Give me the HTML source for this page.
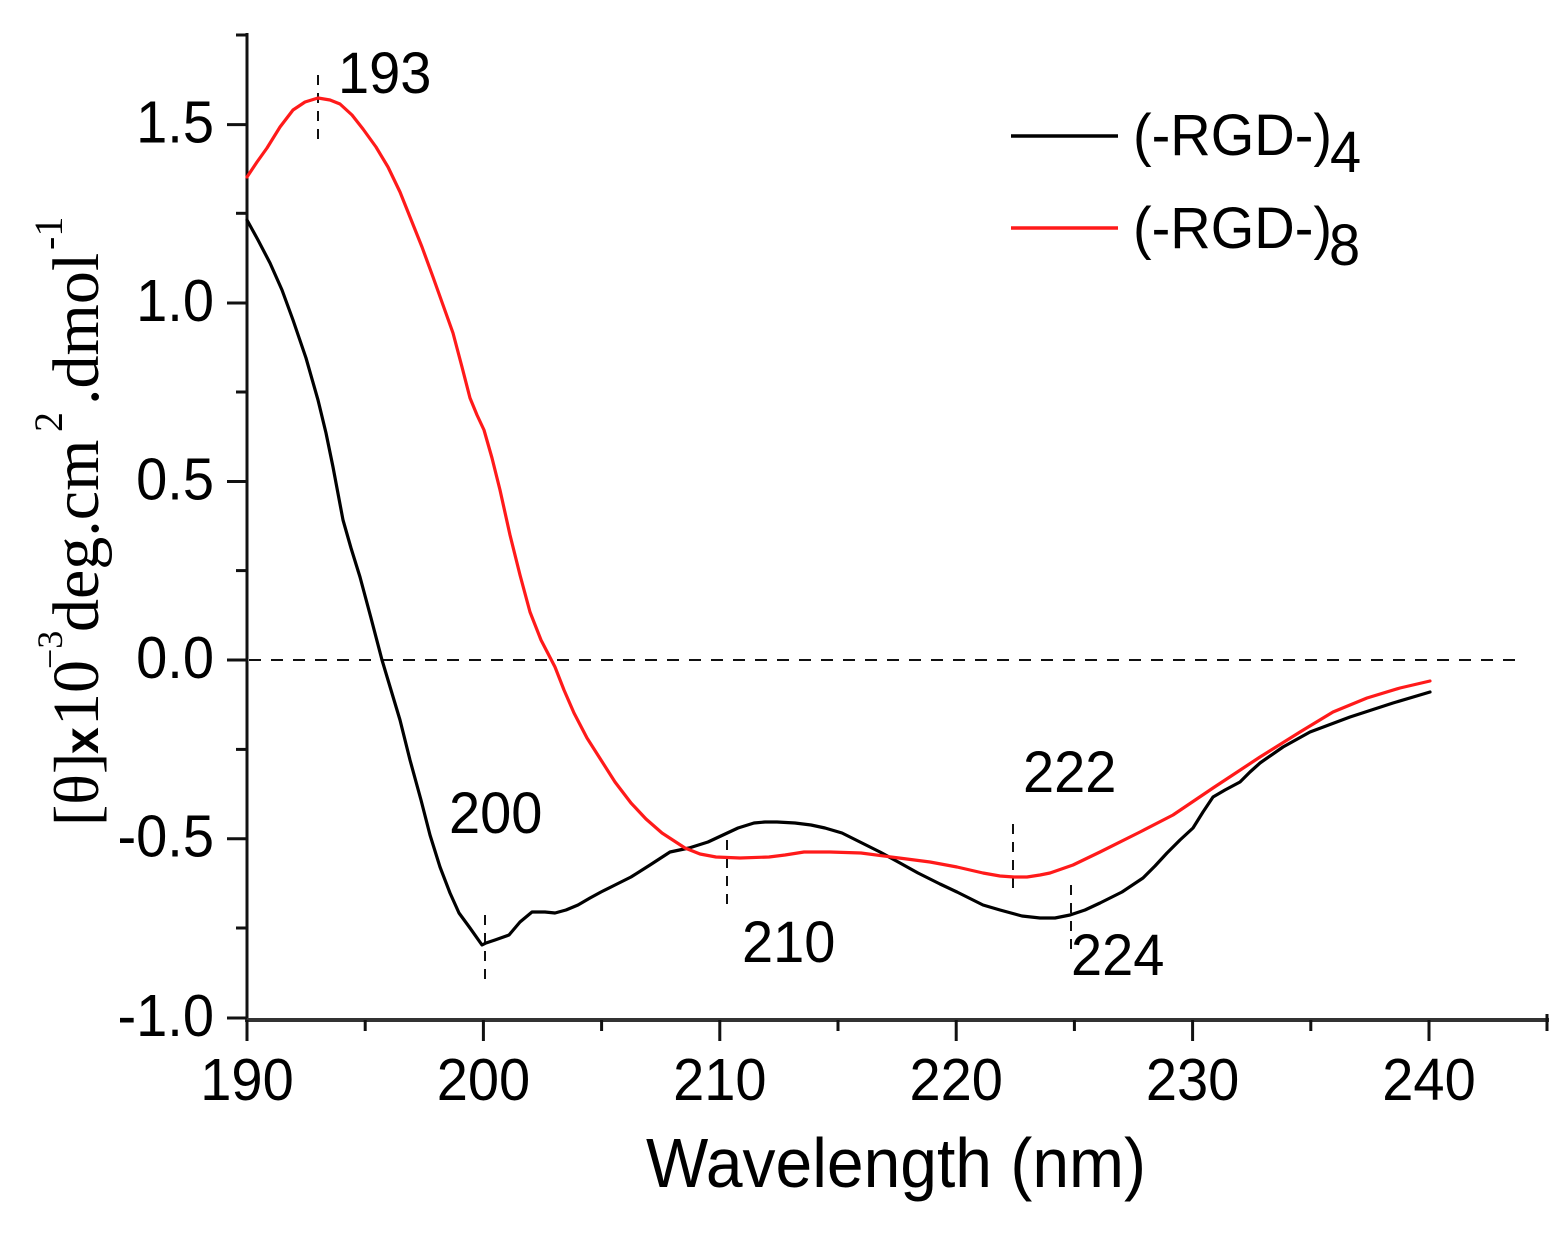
<!DOCTYPE html>
<html><head><meta charset="utf-8"><style>
html,body{margin:0;padding:0;background:#fff;}
svg{display:block;}
.s{font-family:"Liberation Sans",Arial,sans-serif;fill:#000;}
.t{font-family:"Liberation Serif","Times New Roman",serif;fill:#000;}
</style></head><body>
<svg width="1568" height="1236" viewBox="0 0 1568 1236" xmlns="http://www.w3.org/2000/svg">
<rect width="1568" height="1236" fill="#fff"/>
<!-- zero dashed line -->
<line x1="249" y1="660" x2="1518" y2="660" stroke="#111" stroke-width="2" stroke-dasharray="12,10"/>
<!-- marker dashes -->
<g stroke="#111" stroke-width="2" stroke-dasharray="10,8">
<line x1="318" y1="75" x2="318" y2="141"/>
<line x1="485" y1="915" x2="485" y2="982"/>
<line x1="727" y1="840" x2="727" y2="906"/>
<line x1="1013" y1="824" x2="1013" y2="889"/>
<line x1="1071" y1="885" x2="1071" y2="952"/>
</g>
<!-- axes -->
<line x1="247" y1="33" x2="247" y2="1022" stroke="#111" stroke-width="3"/>
<line x1="245" y1="1020" x2="1549" y2="1020" stroke="#333" stroke-width="4"/>
<g stroke="#111" stroke-width="3">
<line x1="227" y1="124.6" x2="247" y2="124.6"/>
<line x1="227" y1="303" x2="247" y2="303"/>
<line x1="227" y1="481.5" x2="247" y2="481.5"/>
<line x1="227" y1="660" x2="247" y2="660"/>
<line x1="227" y1="838.7" x2="247" y2="838.7"/>
<line x1="227" y1="1018" x2="247" y2="1018"/>
<line x1="236" y1="35" x2="247" y2="35"/>
<line x1="236" y1="213.3" x2="247" y2="213.3"/>
<line x1="236" y1="392" x2="247" y2="392"/>
<line x1="236" y1="570.6" x2="247" y2="570.6"/>
<line x1="236" y1="749.4" x2="247" y2="749.4"/>
<line x1="236" y1="928" x2="247" y2="928"/>
<line x1="247" y1="1020" x2="247" y2="1041"/>
<line x1="483.4" y1="1020" x2="483.4" y2="1041"/>
<line x1="719.8" y1="1020" x2="719.8" y2="1041"/>
<line x1="956.2" y1="1020" x2="956.2" y2="1041"/>
<line x1="1192.6" y1="1020" x2="1192.6" y2="1041"/>
<line x1="1429" y1="1020" x2="1429" y2="1041"/>
<line x1="365.2" y1="1020" x2="365.2" y2="1031"/>
<line x1="601.6" y1="1020" x2="601.6" y2="1031"/>
<line x1="838" y1="1020" x2="838" y2="1031"/>
<line x1="1074.4" y1="1020" x2="1074.4" y2="1031"/>
<line x1="1310.8" y1="1020" x2="1310.8" y2="1031"/>
<line x1="1547" y1="1014" x2="1547" y2="1031"/>
</g>
<!-- y tick labels -->
<g class="s" font-size="56" text-anchor="end">
<text transform="translate(214,142.6) scale(1,1.06)">1.5</text>
<text transform="translate(214,321) scale(1,1.06)">1.0</text>
<text transform="translate(214,499.5) scale(1,1.06)">0.5</text>
<text transform="translate(214,678) scale(1,1.06)">0.0</text>
<text transform="translate(214,856.7) scale(1,1.06)">-0.5</text>
<text transform="translate(214,1036) scale(1,1.06)">-1.0</text>
</g>
<!-- x tick labels -->
<g class="s" font-size="56" text-anchor="middle">
<text transform="translate(247,1100) scale(1,1.06)">190</text>
<text transform="translate(483.4,1100) scale(1,1.06)">200</text>
<text transform="translate(719.8,1100) scale(1,1.06)">210</text>
<text transform="translate(956.2,1100) scale(1,1.06)">220</text>
<text transform="translate(1192.6,1100) scale(1,1.06)">230</text>
<text transform="translate(1429,1100) scale(1,1.06)">240</text>
</g>
<!-- x axis title -->
<text class="s" font-size="66" transform="translate(646,1187) scale(1,1.05)">Wavelength (nm)</text>
<!-- y axis title -->
<g class="t">
<text font-size="64" transform="translate(98,826) rotate(-90)">[θ]</text>
<text font-size="48" font-weight="bold" style="font-family:'Liberation Sans',Arial,sans-serif" transform="translate(98,754) rotate(-90)">x</text>
<text font-size="66" transform="translate(98,726) rotate(-90)">10</text>
<text font-size="36" transform="translate(62,669) rotate(-90)">−3</text>
<text font-size="66" transform="translate(98,632) rotate(-90)">deg.cm</text>
<text font-size="40" transform="translate(62,432) rotate(-90)">2</text>
<text font-size="66" transform="translate(98,405) rotate(-90)">.dmol</text>
<text font-size="40" transform="translate(62,250) rotate(-90)">-1</text>
</g>
<!-- annotations -->
<g class="s" font-size="56">
<text transform="translate(338,93) scale(1,1.05)">193</text>
<text transform="translate(449,833) scale(1,1.05)">200</text>
<text transform="translate(742,962) scale(1,1.05)">210</text>
<text transform="translate(1023,792) scale(1,1.05)">222</text>
<text transform="translate(1071,975) scale(1,1.05)">224</text>
</g>
<!-- legend -->
<line x1="1011" y1="136" x2="1118" y2="136" stroke="#000" stroke-width="3.5"/>
<line x1="1011" y1="228" x2="1118" y2="228" stroke="#ff1a1a" stroke-width="3.5"/>
<g class="s" font-size="56">
<text transform="translate(1133,155) scale(1,1.05)">(-RGD-)</text>
<text transform="translate(1330,172) scale(1,1.05)">4</text>
<text transform="translate(1133,248) scale(1,1.05)">(-RGD-)</text>
<text transform="translate(1329,265) scale(1,1.05)">8</text>
</g>
<!-- black series -->
<polyline fill="none" stroke="#000" stroke-width="3.2" stroke-linejoin="round" stroke-linecap="round" points="247,220 258,240 270,263 282,290 293,320 306,358 318,400 326,433 333,467 343,520 351,548 360,577 371,618 382,660 391,690 400,720 410,760 421,800 430,835 440,867 450,893 459,913 470,928 482,945 486,943 495,940 509,935 520,922 532,912 545,912 555,913 566,910 578,905 590,898 601,892 615,885 631,877 650,865 670,852 689,848 708,842 723,835 738,828 754,823 765,822 777,822 795,823 811,825 825,828 842,833 860,842 880,852 900,863 918,873 940,884 957,892 983,905 1000,910 1022,916 1040,918 1055,918 1070,915 1085,910 1100,903 1122,892 1143,878 1155,866 1167,853 1180,840 1193,828 1203,812 1213,797 1225,790 1240,782 1250,772 1260,763 1283,747 1310,732 1350,717 1393,703 1430,692"/>
<!-- red series -->
<polyline fill="none" stroke="#ff1a1a" stroke-width="3.2" stroke-linejoin="round" stroke-linecap="round" points="247,177 257,162 267,148 280,127 293,110 305,102 318,98 330,100 340,104 352,115 363,129 376,147 388,167 400,192 410,217 422,247 433,277 443,305 453,333 462,367 470,398 477,415 484,430 492,458 500,490 510,535 520,575 530,612 541,640 555,667 564,690 574,713 587,738 601,760 615,782 631,803 646,819 662,833 685,848 700,854 716,857 740,858 769,857 785,855 804,852 830,852 861,853 899,858 930,862 957,867 983,873 1000,876 1014,877 1027,877 1040,875 1050,873 1073,865 1100,852 1140,832 1173,815 1213,788 1260,757 1300,732 1333,712 1367,698 1400,688 1430,681"/>
</svg>
</body></html>
